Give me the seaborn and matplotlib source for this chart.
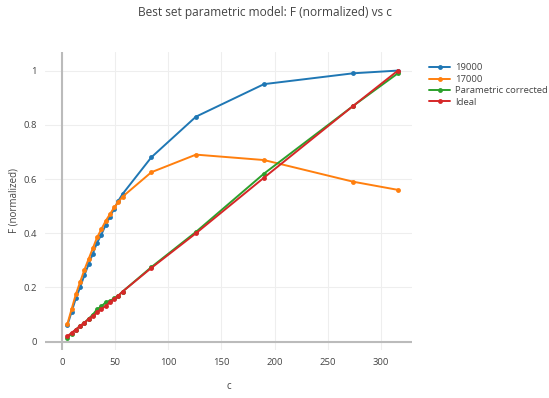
import numpy as np
import pandas as pd
import matplotlib
matplotlib.use("Agg")
import matplotlib.pyplot as plt
import seaborn as sns
from matplotlib.lines import Line2D

c_vals = [5, 9, 13, 17, 21, 25, 29, 33, 37, 41, 45, 49, 53, 57, 84, 126, 190, 274, 316]
f_19000 = [0.06, 0.11, 0.16, 0.20, 0.245, 0.285, 0.325, 0.365, 0.395, 0.43, 0.46, 0.49, 0.52, 0.545,
           0.68, 0.83, 0.95, 0.99, 1.0]
f_17000 = [0.065, 0.12, 0.175, 0.22, 0.265, 0.305, 0.345, 0.385, 0.415, 0.445, 0.47, 0.495, 0.515, 0.535,
           0.625, 0.69, 0.67, 0.59, 0.56]
f_param = [0.015, 0.03, 0.045, 0.058, 0.07, 0.085, 0.1, 0.12, 0.13, 0.145, 0.15, 0.16, 0.17, 0.185,
           0.275, 0.405, 0.62, 0.87, 0.99]
f_ideal = [0.02, 0.033, 0.045, 0.058, 0.07, 0.083, 0.095, 0.108, 0.12, 0.132, 0.145, 0.158, 0.17, 0.185,
           0.272, 0.40, 0.605, 0.87, 1.0]
series_names = ["19000", "17000", "Parametric corrected", "Ideal"]
colors = ["#1f77b4", "#ff7f0e", "#2ca02c", "#d62728"]

frames = []
for name, vals in zip(series_names, [f_19000, f_17000, f_param, f_ideal]):
    frames.append(pd.DataFrame({"c": c_vals, "F": vals, "series": name}))
df = pd.concat(frames, ignore_index=True)

sns.set_theme(style="white")
plt.rcParams["font.family"] = ["Open Sans", "DejaVu Sans"]

fig = plt.figure(figsize=(5.49, 3.98), dpi=100)
ax = fig.add_axes([0.082, 0.121, 0.668, 0.748])

sns.lineplot(data=df, x="c", y="F", hue="series", hue_order=series_names,
             palette=colors, marker="o", markersize=3.5, markeredgewidth=0,
             linewidth=1.4, sort=False, ax=ax, legend=False, zorder=3)

ax.set_xlim(-16, 329)
ax.set_ylim(-0.03, 1.068)
ax.set_xticks([0, 50, 100, 150, 200, 250, 300])
ax.set_yticks([0, 0.2, 0.4, 0.6, 0.8, 1])
ax.set_yticklabels(["0", "0.2", "0.4", "0.6", "0.8", "1"])
ax.grid(True, color="#eeeeee", linewidth=0.8)
ax.axhline(0, color="#bbbbbb", linewidth=1.5, zorder=1)
ax.axvline(0, color="#bbbbbb", linewidth=1.5, zorder=1)
for s in ax.spines.values():
    s.set_visible(False)
ax.tick_params(axis="both", length=0, labelsize=6.8, labelcolor="#444444", pad=6)
ax.set_xlabel("c", fontsize=7, color="#444444", labelpad=10)
ax.set_ylabel("F (normalized)", fontsize=7, color="#444444", labelpad=3)

fig.text(0.483, 0.968, "Best set parametric model: F (normalized) vs c",
         ha="center", va="center", fontsize=8.6, color="#444444")

handles = [Line2D([], [], color=col, marker="o", markersize=3.5, markeredgewidth=0, linewidth=1.4)
           for col in colors]
leg = fig.legend(handles, series_names, loc="upper left", bbox_to_anchor=(0.775, 0.85),
                 frameon=False, fontsize=6.8, handlelength=2.2, handletextpad=0.5,
                 labelspacing=0.25, borderaxespad=0)
for t in leg.get_texts():
    t.set_color("#444444")

fig.savefig("out.png", dpi=100, facecolor="white")
